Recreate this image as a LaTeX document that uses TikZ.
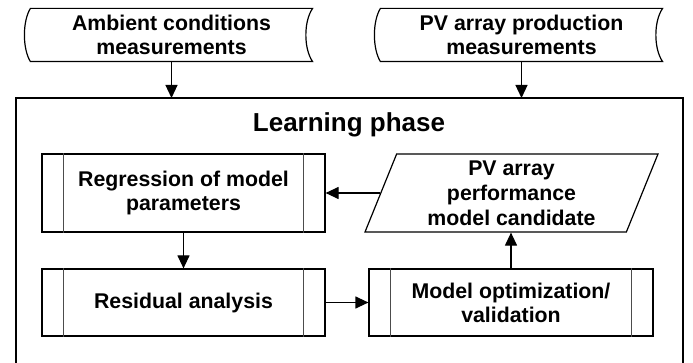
\documentclass[tikz,border=0pt]{standalone}
\usepackage{fontspec}
\setmainfont{Liberation Sans}
\usetikzlibrary{arrows.meta,shapes.geometric}

\begin{document}
\begin{tikzpicture}[x=1pt, y=-1pt, line width=1.2pt,
    every node/.style={inner sep=0pt, align=center, font=\fontsize{21.3}{24}\selectfont\bfseries},
    datastore/.style={rectangle, minimum width=281pt, minimum height=52pt},
    procbox/.style={draw, rectangle, minimum width=283pt, minimum height=67pt},
    candbox/.style={draw, trapezium, trapezium left angle=64, trapezium right angle=116,
        trapezium stretches body, minimum width=293pt, minimum height=78pt,
        font=\fontsize{21.3}{25}\selectfont\bfseries},
    arrow/.style={-{Triangle[length=13pt,width=12pt]}}]
\useasboundingbox (0,0) rectangle (693,363);

% inputs
\node[datastore] (amb) at (171.5,35) {Ambient conditions\\measurements};
\node[datastore] (pvp) at (521.5,35) {PV array production\\measurements};
\foreach \n in {amb,pvp}
  \draw (\n.north west) -- (\n.north east)
    .. controls +(-9,13) and +(-9,-13) .. (\n.south east) -- (\n.south west)
    .. controls +(-8,-13) and +(-8,13) .. (\n.north west) -- cycle;

% learning phase frame
\coordinate (lptl) at (16,98);
\coordinate (lptr) at (683,98);
\draw (lptl |- 0,363) -- (lptl) -- (lptr) -- (lptr |- 0,363);
\node[font=\fontsize{26}{28}\selectfont\bfseries] (title) at (349,125) {Learning phase};

\node[procbox, minimum height=78pt] (reg) at (183.5,193) {Regression of model\\parameters};
\node[procbox] (res) at (183.5,302.5) {Residual analysis};
\node[procbox, minimum width=284pt] (opt) at (511,302.5) {Model optimization/\\validation};
\node[candbox] (cand) at (511.5,193) {PV array\\performance\\model candidate};
\foreach \n in {reg,res,opt} {
  \draw[line width=0.9pt, black!70] ([xshift=22pt]\n.north west) -- ([xshift=22pt]\n.south west);
  \draw[line width=0.9pt, black!70] ([xshift=-22pt]\n.north east) -- ([xshift=-22pt]\n.south east);
}

% flow
\draw[arrow] (amb.south) -- (amb.south |- lptl);
\draw[arrow] (pvp.south) -- (pvp.south |- lptl);
\draw[arrow] (reg) -- (res);
\draw[arrow] (res) -- (opt);
\draw[arrow] (opt) -- (opt.north |- cand.south);
\draw[arrow] (cand.left side) -- (reg.east);

\end{tikzpicture}
\end{document}
